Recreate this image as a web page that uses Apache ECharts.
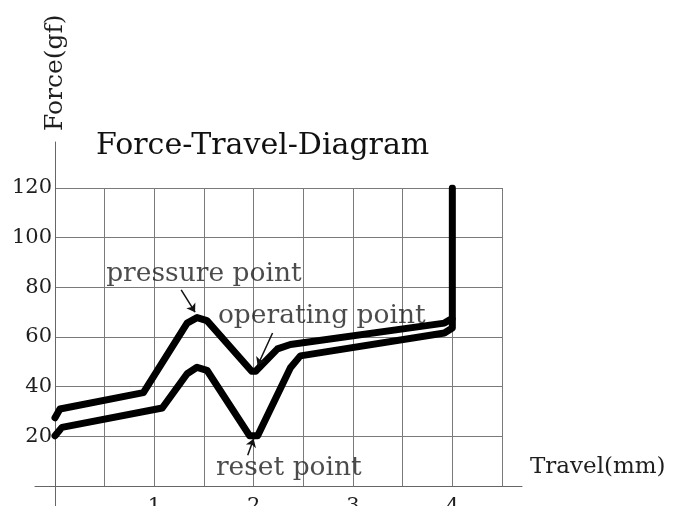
<!DOCTYPE html>
<html>
<head>
<meta charset="utf-8">
<script src="https://cdn.jsdelivr.net/npm/echarts@6/dist/echarts.min.js"></script>
<style>html,body{margin:0;padding:0;background:#fff}#c{width:675px;height:506px}</style>
</head>
<body>
<div id="c"></div>
<script>
// Pressing curve (upper)
var upperTravel = [0, 0.05, 0.89, 1.33, 1.43, 1.53, 1.98, 2.02, 2.24, 2.37, 3.92, 4.0, 4.0];
var upperForce  = [27.5, 31, 37.6, 65.6, 67.8, 66.6, 46.2, 46.2, 55.2, 57, 65.6, 67.5, 120];
// Return curve (lower)
var lowerTravel = [0, 0.07, 1.08, 1.33, 1.43, 1.53, 1.96, 2.04, 2.37, 2.47, 3.92, 4.0, 4.0];
var lowerForce  = [20.2, 23.6, 31.4, 45.2, 47.8, 46.6, 20.2, 20.2, 47.6, 52.4, 61.6, 63.6, 67];
// Annotations
var noteTexts  = ['pressure point', 'operating point', 'reset point'];
var noteTravel = [0.51, 1.635, 1.615];
var noteForce  = [85.2, 68.4, 7.2];
var arrowFromTravel = [1.27, 2.19, 1.94];
var arrowFromForce  = [79, 61.6, 12.4];
var arrowToTravel   = [1.41, 2.04, 2.0];
var arrowToForce    = [70, 48.5, 19];
// Axes
var xMin = 0, xMax = 4.5, xStep = 0.5;
var yMin = 0, yMax = 120, yStep = 20;
var titleText = 'Force-Travel-Diagram';
var xName = 'Travel(mm)';
var yName = 'Force(gf)';

function zip(a, b) { return a.map(function (v, i) { return [v, b[i]]; }); }

var FONT = 'DejaVu Serif';
var TXT = '#1e1e1e';
var chart = echarts.init(document.getElementById('c'), null, {renderer: 'canvas'});
var curveStyle = {color: '#000', width: 7, join: 'round', cap: 'round'};

chart.setOption({
  animation: false,
  backgroundColor: '#fff',
  title: {
    text: titleText, left: 91, top: 126,
    textStyle: {fontFamily: FONT, fontSize: 30, fontWeight: 'normal', color: '#111'}
  },
  grid: [
    {left: 55, top: 188, width: 447, height: 298, outerBoundsMode: 'none', containLabel: false},
    {left: 35, top: 188, width: 487, height: 298, outerBoundsMode: 'none', containLabel: false},
    {left: 55, top: 142, width: 447, height: 364, outerBoundsMode: 'none', containLabel: false}
  ],
  xAxis: [
    {
      gridIndex: 0, type: 'value', min: xMin, max: xMax, interval: xStep,
      axisLine: {show: false}, axisTick: {show: false},
      splitLine: {show: true, lineStyle: {color: '#7a7a7a', width: 1}},
      axisLabel: {
        margin: 10, fontFamily: FONT, fontSize: 21, color: TXT,
        formatter: function (v) { return (v !== 0 && Math.abs(v - Math.round(v)) < 1e-9) ? String(v) : ''; }
      }
    },
    {
      gridIndex: 1, type: 'value', min: 0, max: 1,
      axisLine: {show: true, lineStyle: {color: '#666', width: 1}},
      axisTick: {show: false}, axisLabel: {show: false}, splitLine: {show: false},
      name: xName, nameLocation: 'end', nameGap: 8,
      nameTextStyle: {fontFamily: FONT, fontSize: 23, color: TXT, verticalAlign: 'bottom', lineHeight: 38}
    },
    {gridIndex: 2, type: 'value', min: 0, max: 1, show: false}
  ],
  yAxis: [
    {
      gridIndex: 0, type: 'value', min: yMin, max: yMax, interval: yStep,
      axisLine: {show: false}, axisTick: {show: false},
      splitLine: {show: true, lineStyle: {color: '#7a7a7a', width: 1}},
      axisLabel: {
        margin: 3, fontFamily: FONT, fontSize: 21, color: TXT,
        formatter: function (v) { return v === 0 ? '' : String(v); }
      }
    },
    {gridIndex: 1, type: 'value', min: 0, max: 1, show: false},
    {
      gridIndex: 2, type: 'value', min: 0, max: 1,
      axisLine: {show: true, lineStyle: {color: '#666', width: 1}},
      axisTick: {show: false}, axisLabel: {show: false}, splitLine: {show: false},
      name: yName, nameLocation: 'end', nameGap: 11, nameRotate: 90,
      nameTextStyle: {fontFamily: FONT, fontSize: 25, color: TXT}
    }
  ],
  series: [
    {
      type: 'line', xAxisIndex: 0, yAxisIndex: 0, data: zip(upperTravel, upperForce),
      symbol: 'none', lineStyle: curveStyle, silent: true
    },
    {
      type: 'line', xAxisIndex: 0, yAxisIndex: 0, data: zip(lowerTravel, lowerForce),
      symbol: 'none', lineStyle: curveStyle, silent: true
    },
    {
      type: 'scatter', xAxisIndex: 0, yAxisIndex: 0,
      data: noteTexts.map(function (t, i) { return {value: [noteTravel[i], noteForce[i]], name: t}; }),
      symbolSize: 1, itemStyle: {color: 'transparent'}, silent: true,
      label: {
        show: true, position: 'right', distance: 0, formatter: '{b}',
        fontFamily: FONT, fontSize: 26.5, color: TXT
      },
      markLine: {
        silent: true, symbol: ['none', 'arrow'], symbolSize: 8,
        lineStyle: {color: '#111', width: 1.5, type: 'solid'},
        label: {show: false},
        data: noteTexts.map(function (t, i) {
          return [{coord: [arrowFromTravel[i], arrowFromForce[i]]}, {coord: [arrowToTravel[i], arrowToForce[i]]}];
        })
      }
    }
  ]
});
</script>
</body>
</html>
